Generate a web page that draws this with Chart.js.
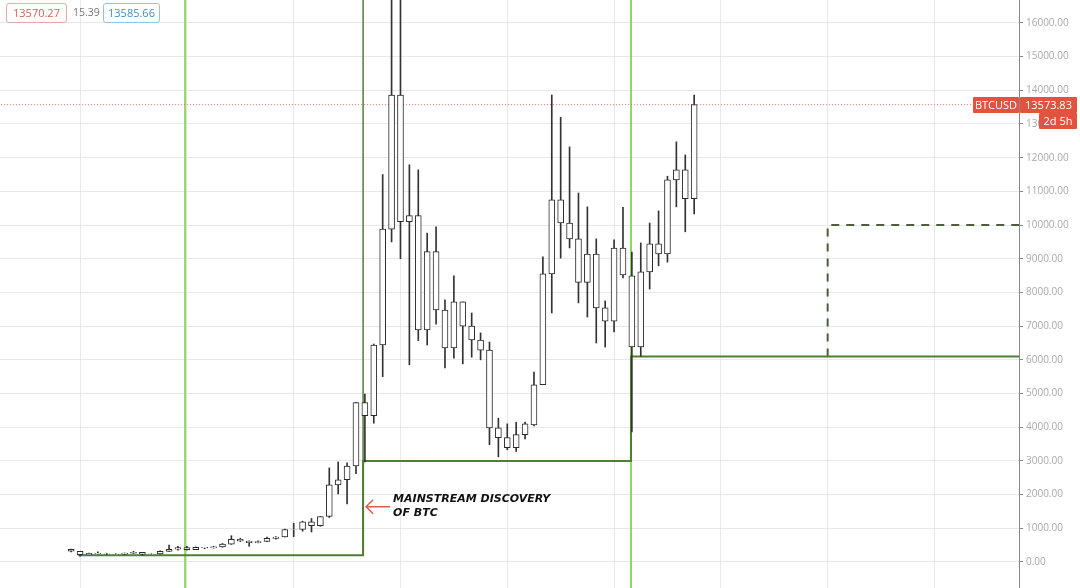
<!DOCTYPE html>
<html>
<head>
<meta charset="utf-8">
<title>BTCUSD monthly</title>
<script src="https://cdn.jsdelivr.net/npm/chart.js@4.4.0/dist/chart.umd.min.js"></script>
<style>
  html, body { margin: 0; padding: 0; background: #fff; }
  #wrap { position: relative; width: 1080px; height: 588px; overflow: hidden; font-family: "Open Sans", sans-serif; }
  .tag { position: absolute; box-sizing: border-box; font-size: 11px; line-height: 14px; border-radius: 3px; text-align: center; white-space: nowrap; }
  #bid { left: 6px; top: 3px; width: 61px; height: 20px; padding-top: 2px; color: #d9605a; border: 1px solid #e6a9a5; }
  #spread { left: 73px; top: 5px; color: #777; font-size: 10.5px; }
  #ask { left: 103px; top: 3px; width: 57px; height: 20px; padding-top: 2px; color: #3a8fc6; border: 1px solid #93c3e3; }
  .red { background: #e2533f; color: #fff; border-radius: 1px; height: 16px; line-height: 16px; }
  #sym { left: 973px; top: 97px; width: 46px; }
  #last { left: 1020px; top: 97px; width: 57px; }
  #left { left: 1039px; top: 113px; width: 38px; }
</style>
</head>
<body>
<div id="wrap">
  <canvas id="chart"></canvas>
  <div class="tag" id="bid">13570.27</div>
  <div class="tag" id="spread">15.39</div>
  <div class="tag" id="ask">13585.66</div>
  <div class="tag red" id="sym">BTCUSD</div>
  <div class="tag red" id="last">13573.83</div>
  <div class="tag red" id="left">2d 5h</div>
</div>
<script>
// monthly candles, Dec 2014 .. Oct 2020
const months = [
  '2014-12',
  '2015-01','2015-02','2015-03','2015-04','2015-05','2015-06','2015-07','2015-08','2015-09','2015-10','2015-11','2015-12',
  '2016-01','2016-02','2016-03','2016-04','2016-05','2016-06','2016-07','2016-08','2016-09','2016-10','2016-11','2016-12',
  '2017-01','2017-02','2017-03','2017-04','2017-05','2017-06','2017-07','2017-08','2017-09','2017-10','2017-11','2017-12',
  '2018-01','2018-02','2018-03','2018-04','2018-05','2018-06','2018-07','2018-08','2018-09','2018-10','2018-11','2018-12',
  '2019-01','2019-02','2019-03','2019-04','2019-05','2019-06','2019-07','2019-08','2019-09','2019-10','2019-11','2019-12',
  '2020-01','2020-02','2020-03','2020-04','2020-05','2020-06','2020-07','2020-08','2020-09','2020-10'
];
const opens = [
  378,
  320, 217, 254, 244, 236, 230, 263, 284, 230, 236, 314, 377,
  430, 368, 437, 416, 448, 531, 673, 624, 574, 608, 700, 742,
  964, 965, 1190, 1080, 1350, 2290, 2440, 2850, 4730, 4340, 6440, 9880,
  13860, 10100, 10280, 6890, 9210, 7480, 6350, 7720, 7000, 6590, 6290, 3980,
  3690, 3390, 3780, 4070, 5260, 8550, 10750, 10060, 9590, 8300, 9140, 7540,
  7150, 9320, 8490, 6380, 8610, 9440, 9140, 11340, 11640, 10780
];
const highs = [
  382,
  320, 264, 300, 261, 247, 268, 317, 285, 244, 333, 502, 465,
  465, 448, 440, 467, 550, 780, 705, 626, 629, 740, 755, 975,
  1150, 1210, 1290, 1350, 2790, 2970, 2940, 4740, 4980, 6470, 11500, 19800,
  17200, 11790, 11640, 9760, 9950, 7780, 8490, 7720, 7390, 6800, 6530, 4270,
  4100, 4150, 4150, 5640, 9060, 13860, 13200, 12320, 10950, 10540, 9590, 7750,
  9560, 10530, 9200, 9470, 10060, 10420, 11450, 12470, 12080, 13860
];
const lows = [
  300,
  170, 212, 235, 214, 225, 219, 253, 198, 224, 236, 311, 350,
  350, 365, 394, 412, 436, 522, 605, 465, 567, 604, 676, 740,
  752, 914, 890, 1060, 1320, 2020, 1720, 2620, 2970, 4120, 5500, 9500,
  9000, 5850, 6570, 6440, 7060, 5760, 6050, 5880, 6080, 6000, 3480, 3120,
  3330, 3280, 3650, 4040, 5260, 7390, 9020, 9320, 7690, 7270, 6500, 6380,
  6830, 8430, 3860, 6110, 8100, 8790, 8900, 10540, 9800, 10330
];
const closes = [
  320,
  217, 254, 244, 236, 230, 263, 284, 230, 236, 314, 377, 430,
  368, 437, 416, 448, 531, 673, 624, 574, 608, 700, 742, 964,
  965, 1190, 1080, 1350, 2290, 2440, 2850, 4730, 4340, 6440, 9880, 13860,
  10100, 10280, 6890, 9210, 7480, 6350, 7720, 7000, 6590, 6290, 3980, 3690,
  3390, 3780, 4100, 5260, 8550, 10750, 10060, 9590, 8300, 9140, 7540, 7150,
  9320, 8520, 6380, 8610, 9440, 9140, 11340, 11640, 10780, 13573.83
];
const lastPrice = 13573.83;

// y tick labels and yearly grid (month index, 0 = Jan 2015)
const yTicks = [0, 1000, 2000, 3000, 4000, 5000, 6000, 7000, 8000, 9000, 10000, 11000, 12000, 13000, 14000, 15000, 16000];
const yearTicks = [0, 12, 24, 36, 48, 60, 72, 84, 96];

// drawings on the chart (month index / price)
const cycleMarks = [11.8, 61.9];
const discoveryMonth = 31.8;
const levelMonths = [-0.2, 31.8, 31.8, 61.9, 61.9, 106];
const levelValues = [200, 200, 3000, 3000, 6100, 6100];
const targetMonths = [84, 84, 106];
const targetValues = [6100, 10000, 10000];
const noteLines = ['MAINSTREAM DISCOVERY', 'OF BTC'];
const noteValue = 1640;

function monthIndex(s) {
  var p = s.split('-').map(Number);
  return (p[0] - 2015) * 12 + p[1] - 1;
}
function pts(xs, ys) {
  return xs.map((x, i) => ({ x: x, y: ys[i] }));
}

Chart.defaults.font.family = '"Open Sans", sans-serif';

var notePlugin = {
  id: 'note',
  afterDatasetsDraw(chart) {
    var ctx = chart.ctx;
    var x0 = chart.scales.x.getPixelForValue(discoveryMonth);
    var y0 = chart.scales.y.getPixelForValue(noteValue);
    ctx.save();
    ctx.strokeStyle = '#d9604a';
    ctx.lineWidth = 1.5;
    ctx.beginPath();
    ctx.moveTo(x0 + 3, y0);
    ctx.lineTo(x0 + 27, y0);
    ctx.moveTo(x0 + 10, y0 - 7);
    ctx.lineTo(x0 + 3, y0);
    ctx.lineTo(x0 + 10, y0 + 7);
    ctx.stroke();
    ctx.fillStyle = '#111';
    ctx.font = 'italic bold 11px "DejaVu Sans", sans-serif';
    ctx.textBaseline = 'middle';
    ctx.fillText(noteLines[0], x0 + 30, y0 - 8);
    ctx.fillText(noteLines[1], x0 + 30, y0 + 6);
    ctx.restore();
  }
};

var datasets = [
  {
    type: 'bar',
    data: months.map((m, i) => ({ x: monthIndex(m), y: [lows[i], highs[i]] })),
    backgroundColor: '#333',
    barThickness: 1,
    grouped: false,
    order: 2
  },
  {
    type: 'bar',
    data: months.map((m, i) => ({ x: monthIndex(m), y: [opens[i], closes[i]] })),
    backgroundColor: '#fff',
    borderColor: '#2b2b2b',
    borderWidth: 1,
    borderSkipped: false,
    barThickness: 6,
    grouped: false,
    order: 1
  },
  {
    type: 'line',
    data: pts(levelMonths, levelValues),
    borderColor: '#4f7e34',
    borderWidth: 2,
    pointRadius: 0,
    order: 5
  },
  {
    type: 'line',
    data: pts([discoveryMonth, discoveryMonth], [200, 30000]),
    borderColor: '#4f7e34',
    borderWidth: 1.5,
    pointRadius: 0,
    order: 5
  },
  {
    type: 'line',
    data: pts(targetMonths, targetValues),
    borderColor: '#4d5d3e',
    borderWidth: 2,
    borderDash: [8, 7],
    pointRadius: 0,
    order: 5
  },
  {
    type: 'line',
    data: pts([-20, 120], [lastPrice, lastPrice]),
    borderColor: '#e07070',
    borderWidth: 1,
    borderDash: [1, 2],
    pointRadius: 0,
    order: 6
  }
];
cycleMarks.forEach(function(m) {
  datasets.push({
    type: 'line',
    data: pts([m, m], [-5000, 30000]),
    borderColor: '#8ed85f',
    borderWidth: 2,
    pointRadius: 0,
    order: 7
  });
});

new Chart(document.getElementById('chart'), {
  data: { datasets: datasets },
  plugins: [notePlugin],
  options: {
    responsive: true,
    maintainAspectRatio: false,
    animation: false,
    layout: { padding: 0 },
    plugins: { legend: { display: false }, tooltip: { enabled: false } },
    scales: {
      x: {
        type: 'linear',
        offset: false,
        min: -9,
        max: 105.5,
        afterBuildTicks: s => { s.ticks = yearTicks.map(v => ({ value: v })); },
        afterFit: s => { s.height = 0; s.paddingLeft = 0; s.paddingRight = 0; },
        ticks: { display: false },
        grid: { color: '#e8e8e8', drawTicks: false, offset: false },
        border: { display: false }
      },
      y: {
        type: 'linear',
        position: 'right',
        min: -772,
        max: 16680,
        afterBuildTicks: s => { s.ticks = yTicks.map(v => ({ value: v })); },
        afterFit: s => { s.width = 61; s.paddingTop = 0; s.paddingBottom = 0; },
        ticks: {
          color: '#a9a9a9',
          font: { size: 10 },
          padding: 3,
          callback: v => v.toFixed(2)
        },
        grid: { color: '#e8e8e8', tickLength: 4, tickColor: '#8a8a8a' },
        border: { color: '#8a8a8a', width: 1 }
      }
    }
  }
});
</script>
</body>
</html>
